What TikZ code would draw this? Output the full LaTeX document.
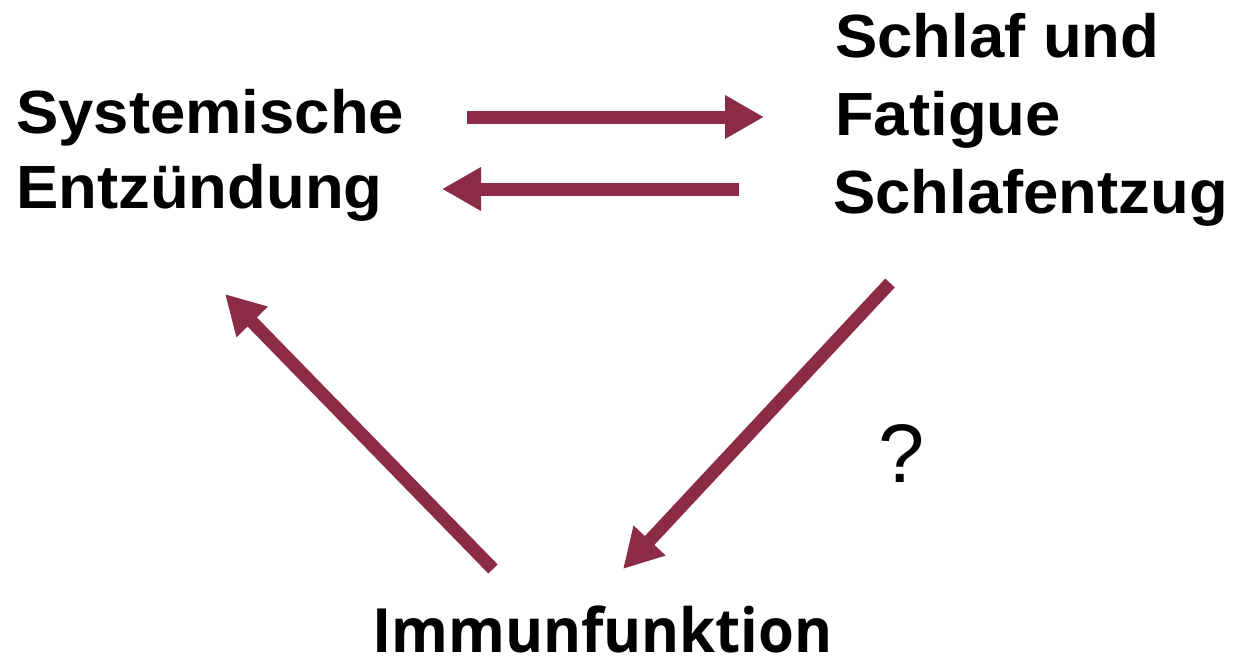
\documentclass[tikz,border=0pt]{standalone}
\usepackage{fontspec}
\setmainfont{Liberation Sans}
\newfontfamily\lblfont[FakeStretch=1.04]{Liberation Sans}
\newfontfamily\immfont[FakeStretch=0.95]{Open Sans}
\usetikzlibrary{arrows.meta}
\definecolor{arrowred}{HTML}{8B2B47}
\tikzset{
  lbl/.style={font=\fontsize{61}{72}\selectfont\lblfont\bfseries, inner sep=0pt, anchor=base west},
  arr/.style={draw=arrowred, line width=13pt, -{Triangle[length=39pt,width=41pt]}, arrowred}
}
\begin{document}
\begin{tikzpicture}[x=1pt,y=-1pt]
\useasboundingbox (0,0) rectangle (1234,659);
% labels
\node[lbl] (sys1) at (16,133) {Systemische};
\node[lbl] (sys2) at (16,208) {Entzündung};
\node[lbl] (sch1) at (835,57) {Schlaf und};
\node[lbl] (sch2) at (835,135) {Fatigue};
\node[lbl] (sch3) at (833,213) {Schlafentzug};
\node[lbl, font=\fontsize{61}{72}\selectfont\immfont\bfseries] (imm) at (372,652) {Immunfunktion};
\node[inner sep=0pt, anchor=base west, font=\fontsize{83}{96}\selectfont] (q) at (878,482) {?};
% arrow endpoints
\coordinate (a1s) at (467,117);
\coordinate (a1e) at (764,117);
\coordinate (a2s) at (739,189);
\coordinate (a2e) at (442,189);
\coordinate (a3s) at (890,283);
\coordinate (a3e) at (623,569);
\coordinate (a4s) at (493,569);
\coordinate (a4e) at (225,294);
\draw[arr] (a1s) -- (a1e);
\draw[arr] (a2s) -- (a2e);
\draw[arr] (a3s) -- (a3e);
\draw[arr] (a4s) -- (a4e);
\end{tikzpicture}
\end{document}
